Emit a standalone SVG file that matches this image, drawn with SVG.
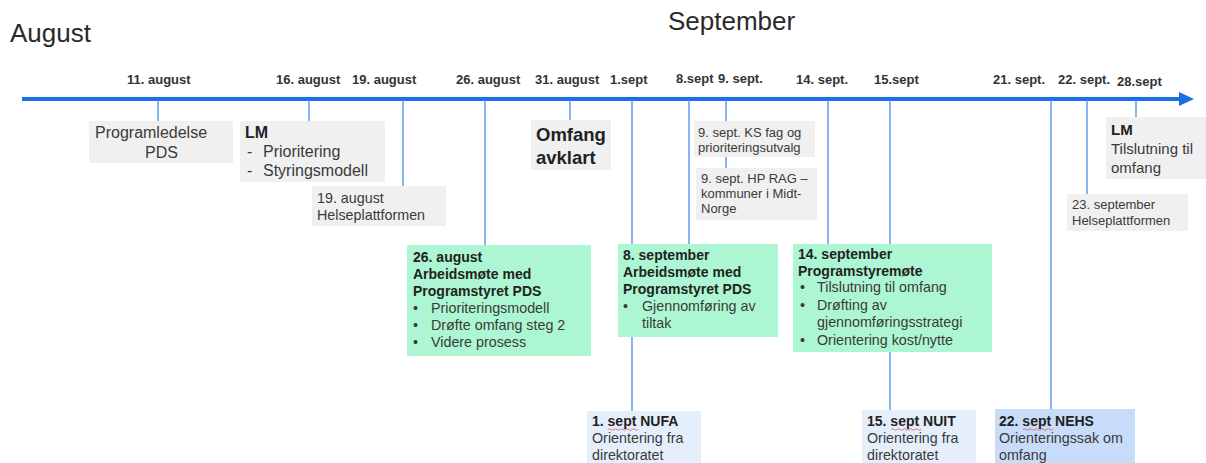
<svg xmlns="http://www.w3.org/2000/svg" width="1206" height="463" viewBox="0 0 1206 463">
  <defs>
    <style>
      text { font-family: "Liberation Sans", Arial, sans-serif; fill: #3a3a3a; }
      .month { font-size: 26px; fill: #2a2a2a; }
      .date { font-size: 13px; font-weight: bold; fill: #333; }
      .gray { fill: #f0f0f0; }
      .green { fill: #adf6d3; }
      .lblue { fill: #e5effc; }
      .dblue { fill: #c6dcf8; }
      .t16 { font-size: 16px; }
      .t15 { font-size: 15px; }
      .t14 { font-size: 14.3px; }
      .t13 { font-size: 13px; }
      .h14 { font-size: 14px; font-weight: bold; fill: #222; }
      .b { font-weight: bold; fill: #222; }
      .tick { stroke: #4a8ee6; stroke-width: 1.3; fill: none; }
      .squiggle { stroke: #e05a5a; stroke-width: 0.8; fill: none; }
    </style>
  </defs>

  <rect width="1206" height="463" fill="#ffffff"/>

  <!-- month headings -->
  <text class="month" x="10" y="42">August</text>
  <text class="month" x="668" y="30">September</text>

  <!-- connectors: timeline axis and drop lines -->
  <g id="connectors">
    <line x1="22" y1="99" x2="1181" y2="99" stroke="#1a6ee6" stroke-width="4"/>
    <path d="M1179,92 L1194,99 L1179,106 Z" fill="#1a6ee6"/>
    <line class="tick" x1="158" y1="100" x2="158" y2="121"/>
    <line class="tick" x1="309" y1="100" x2="309" y2="121"/>
    <line class="tick" x1="403" y1="100" x2="403" y2="186"/>
    <line class="tick" x1="485" y1="100" x2="485" y2="245"/>
    <line class="tick" x1="570" y1="100" x2="570" y2="120"/>
    <line class="tick" x1="632" y1="100" x2="632" y2="411"/>
    <line class="tick" x1="689" y1="100" x2="689" y2="244"/>
    <line class="tick" x1="726" y1="100" x2="726" y2="168"/>
    <line class="tick" x1="828" y1="100" x2="828" y2="244"/>
    <line class="tick" x1="890" y1="100" x2="890" y2="410"/>
    <line class="tick" x1="1051" y1="100" x2="1051" y2="409"/>
    <line class="tick" x1="1087" y1="100" x2="1087" y2="194"/>
    <line class="tick" x1="1136" y1="100" x2="1136" y2="117"/>
  </g>

  <!-- date labels above the axis -->
  <g id="dates">
    <text class="date" x="127" y="84">11. august</text>
    <text class="date" x="276" y="84">16. august</text>
    <text class="date" x="352" y="84">19. august</text>
    <text class="date" x="456" y="84">26. august</text>
    <text class="date" x="535" y="84">31. august</text>
    <text class="date" x="610" y="84">1.sept</text>
    <text class="date" x="676" y="83">8.sept</text>
    <text class="date" x="718" y="83">9. sept.</text>
    <text class="date" x="796" y="84">14. sept.</text>
    <text class="date" x="874" y="84">15.sept</text>
    <text class="date" x="993" y="84">21. sept.</text>
    <text class="date" x="1058" y="84">22. sept.</text>
    <text class="date" x="1117" y="86">28.sept</text>
  </g>

  <g id="node-programledelse">
    <rect class="gray" x="89" y="121" width="144" height="42"/>
    <text class="t16" x="95" y="138">Programledelse</text>
    <text class="t16" x="145" y="158">PDS</text>
  </g>

  <g id="node-lm-aug">
    <rect class="gray" x="240" y="121" width="145" height="61"/>
    <text class="t16 b" x="245" y="138">LM</text>
    <text class="t16" x="247" y="157">-</text>
    <text class="t16" x="263" y="157">Prioritering</text>
    <text class="t16" x="247" y="176">-</text>
    <text class="t16" x="263" y="176">Styringsmodell</text>
  </g>

  <g id="node-helseplattformen-aug">
    <rect class="gray" x="312" y="186" width="134" height="40"/>
    <text class="t14" x="317" y="203">19. august</text>
    <text class="t14" x="317" y="220">Helseplattformen</text>
  </g>

  <g id="node-omfang">
    <rect class="gray" x="531" y="120" width="80" height="50"/>
    <text class="b" style="font-size:18.5px" x="536" y="141">Omfang</text>
    <text class="b" style="font-size:18.5px" x="536" y="164">avklart</text>
  </g>

  <g id="node-ks-fag">
    <rect class="gray" x="694" y="121" width="121" height="36"/>
    <text class="t13" x="698" y="137">9. sept. KS fag og</text>
    <text class="t13" x="698" y="152">prioriteringsutvalg</text>
  </g>

  <g id="node-hp-rag">
    <rect class="gray" x="696" y="168" width="121" height="52"/>
    <text class="t13" x="701" y="183">9. sept. HP RAG –</text>
    <text class="t13" x="701" y="198">kommuner i Midt-</text>
    <text class="t13" x="701" y="213">Norge</text>
  </g>

  <g id="node-lm-sept">
    <rect class="gray" x="1106" y="117" width="100" height="62"/>
    <text class="t15 b" x="1111" y="135">LM</text>
    <text class="t15" x="1111" y="154">Tilslutning til</text>
    <text class="t15" x="1111" y="173">omfang</text>
  </g>

  <g id="node-helseplattformen-sept">
    <rect class="gray" x="1067" y="194" width="121" height="37"/>
    <text class="t13" x="1072" y="209">23. september</text>
    <text class="t13" x="1072" y="225">Helseplattformen</text>
  </g>

  <g id="node-arbeidsmote-aug">
    <rect class="green" x="407" y="245" width="184" height="111"/>
    <text class="h14" x="413" y="262">26. august</text>
    <text class="h14" x="413" y="279">Arbeidsmøte med</text>
    <text class="h14" x="413" y="296">Programstyret PDS</text>
    <text class="t14" x="413" y="313">•</text>
    <text class="t14" x="431" y="313">Prioriteringsmodell</text>
    <text class="t14" x="413" y="330">•</text>
    <text class="t14" x="431" y="330">Drøfte omfang steg 2</text>
    <text class="t14" x="413" y="347">•</text>
    <text class="t14" x="431" y="347">Videre prosess</text>
  </g>

  <g id="node-arbeidsmote-sept">
    <rect class="green" x="618" y="244" width="160" height="93"/>
    <text class="h14" x="623" y="260">8. september</text>
    <text class="h14" x="623" y="277">Arbeidsmøte med</text>
    <text class="h14" x="623" y="294">Programstyret PDS</text>
    <text class="t14" x="623" y="311">•</text>
    <text class="t14" x="642" y="311">Gjennomføring av</text>
    <text class="t14" x="642" y="328">tiltak</text>
  </g>

  <g id="node-programstyremote">
    <rect class="green" x="793" y="244" width="199" height="108"/>
    <text class="h14" x="798" y="259">14. september</text>
    <text class="h14" x="798" y="276">Programstyremøte</text>
    <text class="t14" x="800" y="292">•</text>
    <text class="t14" x="817" y="292">Tilslutning til omfang</text>
    <text class="t14" x="800" y="310">•</text>
    <text class="t14" x="817" y="310">Drøfting av</text>
    <text class="t14" x="817" y="327">gjennomføringsstrategi</text>
    <text class="t14" x="800" y="345">•</text>
    <text class="t14" x="817" y="345">Orientering kost/nytte</text>
  </g>

  <g id="node-nufa">
    <rect class="lblue" x="587" y="411" width="114" height="52"/>
    <text class="h14" x="592" y="426">1. sept NUFA</text>
    <path class="squiggle" d="M608,429.5 q1.5,-1.5 3,0 t3,0 t3,0 t3,0 t3,0 t3,0 t3,0 t3,0 t3,0 t3,0"/>
    <text class="t14" x="592" y="443">Orientering fra</text>
    <text class="t14" x="592" y="460">direktoratet</text>
  </g>

  <g id="node-nuit">
    <rect class="lblue" x="862" y="410" width="114" height="53"/>
    <text class="h14" x="867" y="426">15. sept NUIT</text>
    <path class="squiggle" d="M891,429.5 q1.5,-1.5 3,0 t3,0 t3,0 t3,0 t3,0 t3,0 t3,0 t3,0 t3,0 t3,0"/>
    <text class="t14" x="867" y="443">Orientering fra</text>
    <text class="t14" x="867" y="460">direktoratet</text>
  </g>

  <g id="node-nehs">
    <rect class="dblue" x="995" y="409" width="140" height="54"/>
    <text class="h14" x="999" y="426">22. sept NEHS</text>
    <path class="squiggle" d="M1023,429.5 q1.5,-1.5 3,0 t3,0 t3,0 t3,0 t3,0 t3,0 t3,0 t3,0 t3,0 t3,0"/>
    <text class="t14" x="999" y="443">Orienteringssak om</text>
    <text class="t14" x="999" y="460">omfang</text>
  </g>
</svg>
